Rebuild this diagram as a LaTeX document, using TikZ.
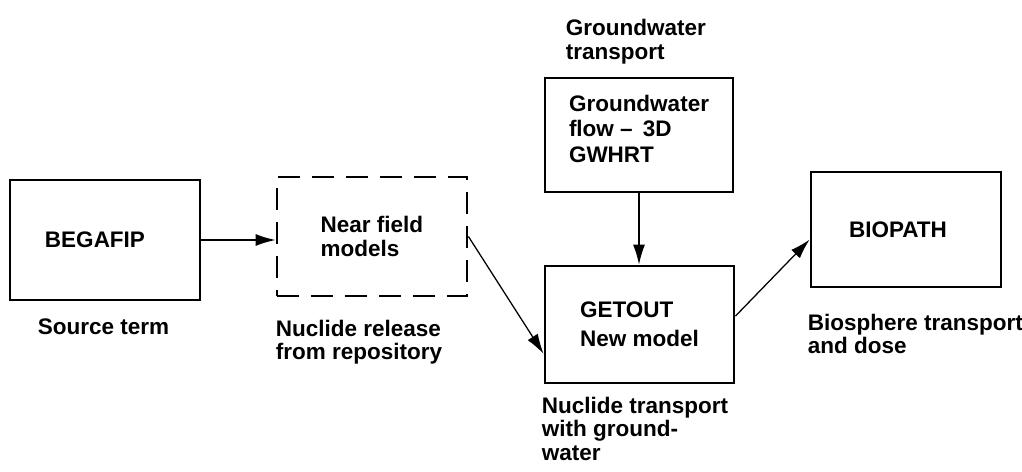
\documentclass[tikz,border=0pt]{standalone}
\usepackage{fontspec}
\setmainfont{Liberation Sans}
\usepackage{tikz}
\usetikzlibrary{arrows.meta, calc, positioning}
\tikzstyle{block} = [rectangle, line width=2pt, inner sep=0pt, align=left, draw=black, font=\bfseries\fontsize{16}{16.8}\selectfont]
\tikzstyle{dashblock} = [block, dash pattern=on 0.55cm off 0.3cm]
\tikzstyle{caption} = [inner sep=0pt, align=left, font=\bfseries\fontsize{16}{16.8}\selectfont]
\tikzstyle{arrow} = [line width=0.9pt, -{Latex[length=0.5cm, width=0.3cm]}]

\begin{document}
\begin{tikzpicture}[x=0.025cm, y=-0.025cm]
		\useasboundingbox (0,0) rectangle (1022,472);
		\node (Begafip) [block, minimum width=4.75cm, minimum height=3cm] at (105,240) {BEGAFIP\hspace{0.5cm}};
		\node (NearField) [dashblock, minimum width=4.75cm, minimum height=2.975cm] at (372,236.5) {Near field\\models};
		\node (GroundwaterFlow) [block, minimum width=4.7cm, minimum height=2.85cm, text depth=0.3cm] at (639,135) {Groundwater\\[1pt]flow \textendash\ \,3D\\[2pt]GWHRT};
		\node (Getout) [block, minimum width=4.725cm, minimum height=2.925cm] at (639.5,324.5) {GETOUT\\[4pt]New model};
		\node (Biopath) [block, minimum width=4.75cm, minimum height=2.875cm] at (906,229.5) {BIOPATH\hspace{0.4cm}};
		\node (SourceTerm) [caption, below = 0.425cm of Begafip.south west, anchor=north west, xshift=0.725cm] {Source term};
		\node (Release) [caption, below = 0.55cm of NearField.south west, anchor=north west] {Nuclide release\\from repository};
		\node (Transport) [caption, below = 0.3cm of Getout.south west, anchor=north west, xshift=-0.05cm] {Nuclide transport\\with ground-\\water};
		\node (Biosphere) [caption, below = 0.625cm of Biopath.south west, anchor=north west, xshift=-0.05cm] {Biosphere transport\\and dose};
		\node (GwTransport) [caption, above = 0.3cm of GroundwaterFlow.north west, anchor=south west, xshift=0.55cm] {Groundwater\\transport};
		\draw [arrow] (Begafip) -- (Begafip -| NearField.west);
		\draw [arrow] (NearField.east) -- (Getout.197);
		\draw [arrow] (GroundwaterFlow) -- (GroundwaterFlow |- Getout.north);
		\draw [arrow] (Getout.5) -- (Biopath.186);
\end{tikzpicture}
\end{document}
